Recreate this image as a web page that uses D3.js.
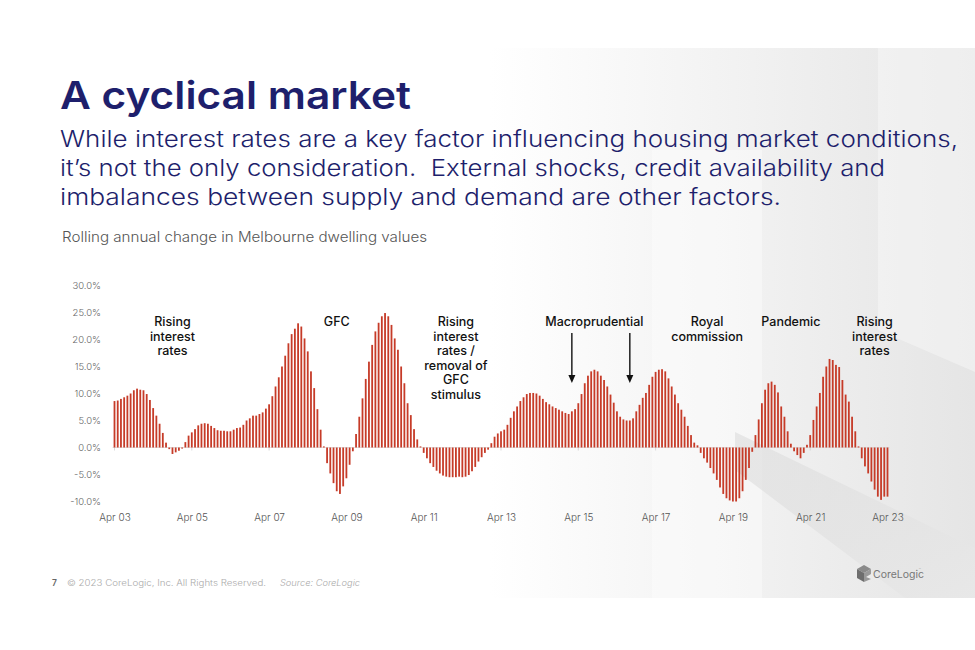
<!DOCTYPE html>
<html>
<head>
<meta charset="utf-8">
<script src="https://cdn.jsdelivr.net/npm/d3@7"></script>
<style>
  body { margin: 0; background: #fff; }
  svg { display: block; }
</style>
</head>
<body>
<div id="chart"></div>
<script>
// rolling annual change, Melbourne dwelling values, monthly from Apr 2003 to Apr 2023
let values = [
  8.6, 8.7, 9.0, 9.3, 9.6, 10.0, 10.6, 10.9, 10.7, 10.6,
  9.9, 8.8, 7.3, 5.9, 4.4, 2.7, 0.9, -0.3, -1.2, -0.9,
  -0.6, -0.2, 1.0, 2.2, 2.8, 3.4, 4.1, 4.4, 4.5, 4.4,
  4.0, 3.6, 3.2, 3.1, 3.1, 3.0, 3.0, 3.3, 3.6, 3.7,
  4.2, 5.0, 5.4, 5.9, 5.9, 6.2, 6.5, 7.2, 8.0, 9.5,
  11.3, 13.0, 15.0, 17.0, 19.3, 21.0, 22.0, 23.0, 22.4, 20.2,
  17.8, 14.1, 11.0, 7.1, 3.3, 0.2, -2.9, -4.8, -6.6, -8.1,
  -8.6, -7.2, -5.7, -3.2, -0.7, 2.5, 5.7, 9.1, 12.7, 15.9,
  19.0, 21.5, 23.1, 24.3, 24.9, 24.3, 22.7, 20.2, 18.1, 15.0,
  11.9, 8.2, 6.0, 3.4, 1.5, 0.2, -1.0, -2.0, -2.9, -3.6,
  -4.3, -4.8, -5.2, -5.4, -5.5, -5.5, -5.5, -5.4, -5.5, -5.4,
  -5.1, -4.4, -3.6, -2.6, -1.8, -1.0, -0.4, 0.8, 2.0, 2.6,
  3.0, 3.3, 4.2, 5.5, 6.7, 7.6, 8.6, 9.3, 9.9, 10.1,
  10.1, 10.0, 9.6, 9.0, 8.4, 8.0, 7.6, 7.3, 7.0, 6.7,
  6.4, 6.2, 6.7, 7.1, 8.2, 9.9, 11.9, 13.3, 14.1, 14.4,
  14.1, 13.3, 12.5, 11.3, 9.8, 8.3, 6.7, 5.7, 5.2, 5.0,
  5.0, 5.4, 6.7, 7.9, 9.2, 10.1, 11.6, 13.1, 14.0, 14.4,
  14.5, 14.1, 12.8, 11.3, 9.8, 8.2, 7.0, 5.7, 4.0, 2.3,
  0.9, 0.4, -1.0, -2.0, -2.8, -3.8, -4.8, -6.0, -7.4, -8.6,
  -9.4, -9.8, -10.0, -10.0, -9.4, -8.1, -6.0, -3.8, -0.8, 2.3,
  5.2, 8.2, 10.7, 11.9, 12.2, 11.6, 10.2, 7.6, 5.7, 3.0,
  0.7, -0.7, -1.4, -2.0, -1.0, 0.5, 2.3, 5.1, 7.6, 10.1,
  13.1, 15.0, 16.4, 16.2, 15.3, 14.9, 12.5, 9.8, 8.5, 5.7,
  3.0, 0.2, -2.0, -3.5, -4.8, -6.3, -7.8, -9.1, -9.7, -9.1,
  -9.1
];

let xTickLabels = ["Apr 03", "Apr 05", "Apr 07", "Apr 09", "Apr 11", "Apr 13",
                   "Apr 15", "Apr 17", "Apr 19", "Apr 21", "Apr 23"];
let yTicks = [-10, -5, 0, 5, 10, 15, 20, 25, 30];

// event labels, anchored on a month ("Mon YY")
let eventLabels = [
  ["Rising", "interest", "rates"],
  ["GFC"],
  ["Rising", "interest", "rates /", "removal of", "GFC", "stimulus"],
  ["Macroprudential"],
  ["Royal", "commission"],
  ["Pandemic"],
  ["Rising", "interest", "rates"]
];
let eventMonths = ["Oct 04", "Jan 09", "Feb 12", "Sep 15", "Aug 18", "Oct 20", "Dec 22"];
let arrowMonths = ["Feb 15", "Aug 16"];

let W = 975, H = 650;
let navy = "#1e1f6c";
let barColor = "#c63b28";
let font = "Inter, 'Noto Sans', sans-serif";

let monthNames = ["Jan","Feb","Mar","Apr","May","Jun","Jul","Aug","Sep","Oct","Nov","Dec"];
function monthIndex(s) {
  let p = s.split(" ");
  return (2000 + (+p[1]) - 2003) * 12 + monthNames.indexOf(p[0]) - 3;
}

let svg = d3.select("#chart")
            .append("svg")
            .attr("width", W)
            .attr("height", H);

// ---- background (slide with grey photo on the right)
let defs = svg.append("defs");
let g1 = defs.append("linearGradient").attr("id", "bgGrad")
            .attr("x1", 0).attr("x2", 1).attr("y1", 0).attr("y2", 0);
g1.append("stop").attr("offset", 0).attr("stop-color", "#ffffff");
g1.append("stop").attr("offset", 0.35).attr("stop-color", "#f6f6f6");
g1.append("stop").attr("offset", 1).attr("stop-color", "#e5e5e5");

let g2 = defs.append("linearGradient").attr("id", "shadowGrad")
            .attr("x1", 0).attr("x2", 1).attr("y1", 0).attr("y2", 1);
g2.append("stop").attr("offset", 0).attr("stop-color", "#dcdcdc").attr("stop-opacity", 0.6);
g2.append("stop").attr("offset", 1).attr("stop-color", "#e8e8e8").attr("stop-opacity", 0.9);

let bg = svg.append("g").attr("id", "background");
bg.append("rect")
  .attr("x", 490).attr("y", 48)
  .attr("width", W - 490).attr("height", 550)
  .style("fill", "url(#bgGrad)");
bg.append("rect")
  .attr("x", 652).attr("y", 150)
  .attr("width", 110).attr("height", 448)
  .style("fill", "#ffffff").style("opacity", 0.4);
bg.append("polygon")
  .attr("points", "878,48 975,48 975,372 878,330")
  .style("fill", "#ffffff").style("opacity", 0.35);
bg.append("polygon")
  .attr("points", "735,432 975,548 975,598 905,598 735,470")
  .style("fill", "url(#shadowGrad)");

// ---- heading texts
let title = svg.append("g").attr("id", "titles");
title.append("text")
     .attr("x", 60).attr("y", 109)
     .attr("textLength", 351).attr("lengthAdjust", "spacingAndGlyphs")
     .style("font-family", font)
     .style("font-size", "38px").style("font-weight", 600)
     .style("fill", navy)
     .text("A cyclical market");

let subLines = [
  ["While interest rates are a key factor influencing housing market conditions,", 898],
  ["it’s not the only consideration.  External shocks, credit availability and", 825],
  ["imbalances between supply and demand are other factors.", 721]
];
title.selectAll(".sub")
     .data(subLines)
     .enter()
     .append("text")
     .attr("class", "sub")
     .attr("x", 60)
     .attr("y", (d, i) => 147 + i * 29)
     .attr("textLength", d => d[1]).attr("lengthAdjust", "spacingAndGlyphs")
     .style("white-space", "pre")
     .style("font-family", font)
     .style("font-size", "23px").style("font-weight", 300)
     .style("fill", navy)
     .text(d => d[0]);

title.append("text")
     .attr("x", 62).attr("y", 242)
     .attr("textLength", 365).attr("lengthAdjust", "spacingAndGlyphs")
     .style("font-family", font)
     .style("font-size", "14px").style("font-weight", 300)
     .style("fill", "#555")
     .text("Rolling annual change in Melbourne dwelling values");

// ---- chart
let x = d3.scaleLinear()
          .domain([0, values.length - 1])
          .range([114.5, 887.5]);
let y = d3.scaleLinear()
          .domain([-10, 30])
          .range([501.5, 285.5]);

let chart = svg.append("g").attr("id", "chart-area");

chart.append("line")
     .attr("x1", x(0) - 2).attr("x2", x(values.length - 1) + 2)
     .attr("y1", y(0)).attr("y2", y(0))
     .style("stroke", "#dadada").style("stroke-width", 0.8);

chart.append("g")
     .selectAll("line")
     .data(xTickLabels)
     .enter()
     .append("line")
     .attr("x1", (d, i) => x(i * 24)).attr("x2", (d, i) => x(i * 24))
     .attr("y1", y(0)).attr("y2", y(0) + 3)
     .style("stroke", "#d0d0d0").style("stroke-width", 0.8);

chart.append("g")
     .attr("id", "bars")
     .selectAll("rect")
     .data(values)
     .enter()
     .append("rect")
     .attr("x", (d, i) => x(i) - 0.9)
     .attr("width", 1.8)
     .attr("y", d => y(Math.max(0, d)))
     .attr("height", d => Math.abs(y(d) - y(0)))
     .style("fill", barColor);

let yAxis = d3.axisLeft(y)
              .tickValues(yTicks)
              .tickSize(0)
              .tickPadding(3)
              .tickFormat(d => d.toFixed(1) + "%");
let yG = chart.append("g")
              .attr("transform", "translate(104,0)")
              .call(yAxis);
yG.select(".domain").remove();
yG.selectAll("text")
  .style("font-family", font)
  .style("font-size", "9.5px").style("font-weight", 300)
  .style("fill", "#666");

let xAxis = d3.axisBottom(x)
              .tickValues(xTickLabels.map((d, i) => i * 24))
              .tickSize(0)
              .tickPadding(9)
              .tickFormat((d, i) => xTickLabels[i]);
let xG = chart.append("g")
              .attr("transform", "translate(0,505)")
              .call(xAxis);
xG.select(".domain").remove();
xG.selectAll("text")
  .style("font-family", font)
  .style("font-size", "10px").style("font-weight", 300)
  .style("fill", "#555");

// ---- event annotations
let ann = chart.append("g").attr("id", "annotations");
eventLabels.forEach(function(lines, k) {
  let cx = x(monthIndex(eventMonths[k]));
  ann.append("text")
     .attr("text-anchor", "middle")
     .style("font-family", font)
     .style("font-size", "12.5px").style("font-weight", 500)
     .style("fill", "#111")
     .selectAll("tspan")
     .data(lines)
     .enter()
     .append("tspan")
     .attr("x", cx)
     .attr("y", (d, i) => 326 + i * 14.6)
     .text(d => d);
});

arrowMonths.forEach(function(m) {
  let ax = x(monthIndex(m));
  ann.append("line")
     .attr("x1", ax).attr("x2", ax)
     .attr("y1", 333).attr("y2", 376)
     .style("stroke", "#111").style("stroke-width", 1.4);
  ann.append("path")
     .attr("d", "M" + (ax - 3.5) + ",375 L" + (ax + 3.5) + ",375 L" + ax + ",383 Z")
     .style("fill", "#111");
});

// ---- footer
let foot = svg.append("g").attr("id", "footer")
              .style("font-family", font)
              .style("font-size", "8.5px");
foot.append("text").attr("x", 52).attr("y", 586)
    .style("fill", "#666").style("font-weight", 600).text("7");
foot.append("text").attr("x", 67).attr("y", 586)
    .attr("textLength", 199).attr("lengthAdjust", "spacingAndGlyphs")
    .style("fill", "#aaa").style("font-weight", 300)
    .text("© 2023 CoreLogic, Inc. All Rights Reserved.");
foot.append("text").attr("x", 280).attr("y", 586)
    .attr("textLength", 80).attr("lengthAdjust", "spacingAndGlyphs")
    .style("fill", "#aaa").style("font-style", "italic").style("font-weight", 300)
    .text("Source: CoreLogic");

// logo
let logo = svg.append("g").attr("id", "logo").attr("transform", "translate(857,565)");
logo.append("path").attr("d", "M0,4 L7,0 L14,4 L7,8 Z").style("fill", "#8a8a8a");
logo.append("path").attr("d", "M0,4 L7,8 L7,17 L0,13 Z").style("fill", "#6e6e6e");
logo.append("path").attr("d", "M7,8 L14,4 L14,9 L9,12 L14,14 L7,17 Z").style("fill", "#9a9a9a");
logo.append("text").attr("x", 16).attr("y", 13)
    .style("font-family", font)
    .style("font-size", "10.5px").style("fill", "#777")
    .text("CoreLogic");
logo.append("text").attr("x", 62).attr("y", 6)
    .style("font-family", font)
    .style("font-size", "3px").style("fill", "#999")
    .text("™");
</script>
</body>
</html>
